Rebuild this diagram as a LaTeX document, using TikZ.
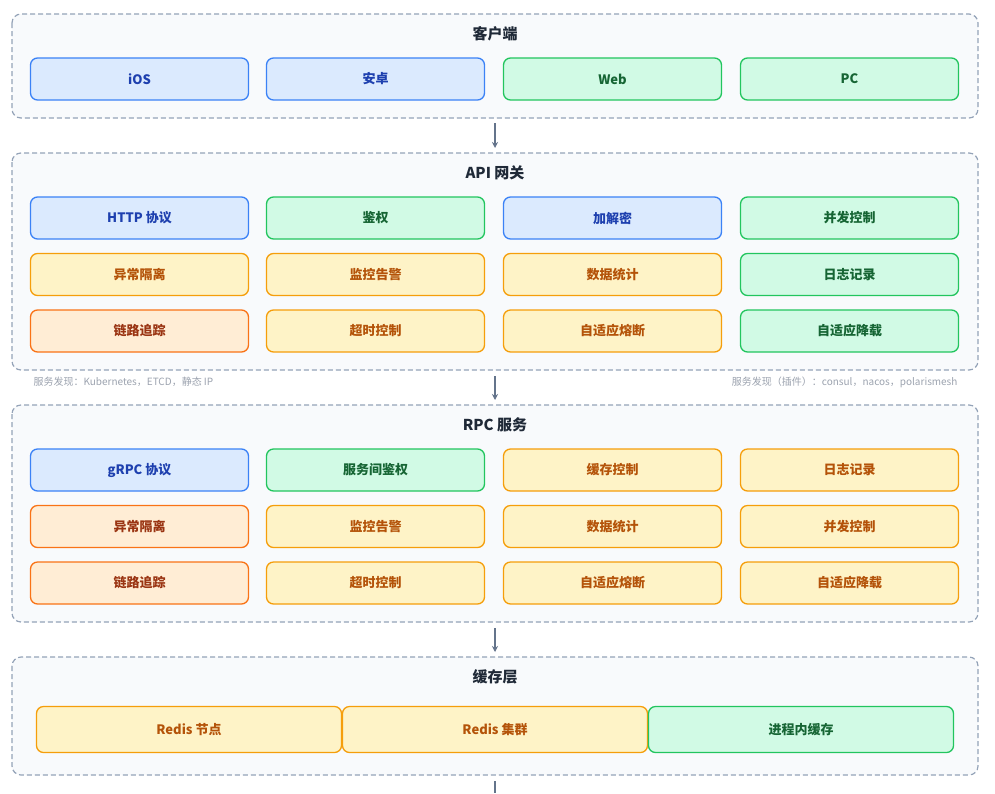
\documentclass[tikz,border=0pt]{standalone}
\usepackage{fontspec}
\setmainfont{Noto Sans CJK SC}
\usetikzlibrary{arrows.meta}
\definecolor{bF}{HTML}{DBEAFE}\definecolor{bS}{HTML}{3B82F6}\definecolor{bT}{HTML}{1E40AF}
\definecolor{gF}{HTML}{D1FAE5}\definecolor{gS}{HTML}{22C55E}\definecolor{gT}{HTML}{166534}
\definecolor{yF}{HTML}{FEF3C7}\definecolor{yS}{HTML}{F59E0B}\definecolor{yT}{HTML}{B45309}
\definecolor{oF}{HTML}{FFEDD5}\definecolor{oS}{HTML}{F97316}\definecolor{oT}{HTML}{9A3412}
\definecolor{cF}{HTML}{F8FAFC}\definecolor{cS}{HTML}{94A3B8}\definecolor{tT}{HTML}{1F2937}
\definecolor{aS}{HTML}{64748B}\definecolor{sT}{HTML}{9CA3AF}
\tikzset{x=1pt,y=-1pt,
 layer/.style={draw=cS,fill=cF,dashed,dash pattern=on 5pt off 3pt,line width=1.2pt,rounded corners=9pt},
 ttl/.style={font=\bfseries\fontsize{15}{18}\selectfont,text=tT},
 box/.style={rounded corners=7pt,line width=1.3pt,minimum width=218pt,minimum height=42pt,font=\bfseries\fontsize{13}{16}\selectfont,anchor=center},
 B/.style={box,draw=bS,fill=bF,text=bT},
 G/.style={box,draw=gS,fill=gF,text=gT},
 Y/.style={box,draw=yS,fill=yF,text=yT},
 O/.style={box,draw=oS,fill=oF,text=oT},
 arr/.style={draw=aS,line width=1.5pt,-{Stealth[length=6pt,width=6pt]}},
 small/.style={font=\fontsize{10}{12}\selectfont,text=sT}}
\begin{document}
\begin{tikzpicture}
\useasboundingbox[fill=white] (0,0) rectangle (995,793);
% client
\draw[layer] (12,14) rectangle (978,118);
\node[ttl] (t1) at (495,34) {客户端};
\node[B] (c1) at (139.5,79) {iOS};
\node[B] (c2) at (375.5,79) {安卓};
\node[G] (c3) at (612.5,79) {Web};
\node[G] (c4) at (849.5,79) {PC};
% api
\draw[layer] (12,153) rectangle (978,370);
\node[ttl] (t2) at (495,173) {API 网关};
\node[B] (a1) at (139.5,218) {HTTP 协议};
\node[G] (a2) at (375.5,218) {鉴权};
\node[B] (a3) at (612.5,218) {加解密};
\node[G] (a4) at (849.5,218) {并发控制};
\node[Y] (a5) at (139.5,274.5) {异常隔离};
\node[Y] (a6) at (375.5,274.5) {监控告警};
\node[Y] (a7) at (612.5,274.5) {数据统计};
\node[G] (a8) at (849.5,274.5) {日志记录};
\node[O] (a9) at (139.5,331) {链路追踪};
\node[Y] (a10) at (375.5,331) {超时控制};
\node[Y] (a11) at (612.5,331) {自适应熔断};
\node[G] (a12) at (849.5,331) {自适应降载};
\node[small,anchor=west] (s1) at (30,382) {服务发现：Kubernetes，ETCD，静态 IP};
\node[small,anchor=east] (s2) at (961,382) {服务发现（插件）：consul，nacos，polarismesh};
% rpc
\draw[layer] (12,405) rectangle (978,622);
\node[ttl] (t3) at (495,425) {RPC 服务};
\node[B] (r1) at (139.5,470) {gRPC 协议};
\node[G] (r2) at (375.5,470) {服务间鉴权};
\node[Y] (r3) at (612.5,470) {缓存控制};
\node[Y] (r4) at (849.5,470) {日志记录};
\node[O] (r5) at (139.5,526.5) {异常隔离};
\node[Y] (r6) at (375.5,526.5) {监控告警};
\node[Y] (r7) at (612.5,526.5) {数据统计};
\node[Y] (r8) at (849.5,526.5) {并发控制};
\node[O] (r9) at (139.5,583) {链路追踪};
\node[Y] (r10) at (375.5,583) {超时控制};
\node[Y] (r11) at (612.5,583) {自适应熔断};
\node[Y] (r12) at (849.5,583) {自适应降载};
% cache
\draw[layer] (12,657) rectangle (978,775);
\node[ttl] (t4) at (495,677) {缓存层};
\node[Y,minimum width=305pt,minimum height=46pt] (k1) at (189,729.5) {Redis 节点};
\node[Y,minimum width=305pt,minimum height=46pt] (k2) at (495,729.5) {Redis 集群};
\node[G,minimum width=305pt,minimum height=46pt] (k3) at (801,729.5) {进程内缓存};
% arrows
\coordinate (p1) at (495,123); \coordinate (q1) at (495,148);
\coordinate (p2) at (495,376); \coordinate (q2) at (495,400);
\coordinate (p3) at (495,628); \coordinate (q3) at (495,652);
\coordinate (p4) at (495,781); \coordinate (q4) at (495,793);
\draw[arr] (p1) -- (q1);
\draw[arr] (p2) -- (q2);
\draw[arr] (p3) -- (q3);
\draw[draw=aS,line width=1.5pt] (p4) -- (q4);
\end{tikzpicture}
\end{document}
